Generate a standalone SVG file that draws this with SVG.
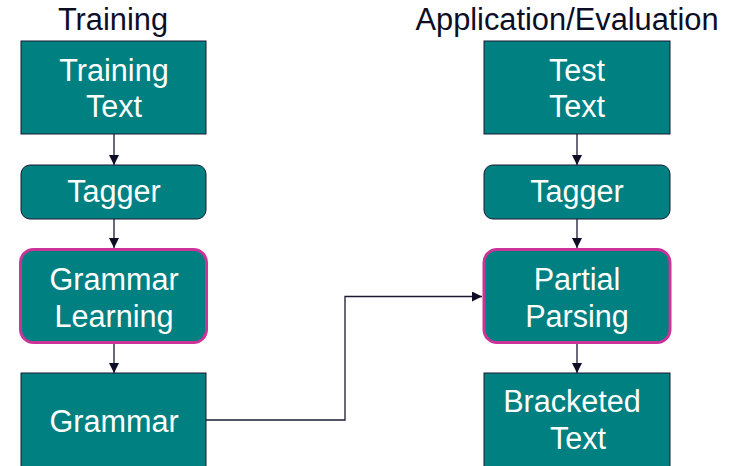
<svg xmlns="http://www.w3.org/2000/svg" width="734" height="466" viewBox="0 0 734 466">
  <style>
    .title { font-family: "Liberation Sans", Arial, sans-serif; font-size: 30.8px; fill: #0d0d26; text-anchor: middle; }
    .label { font-family: "Liberation Sans", Arial, sans-serif; font-size: 30.6px; fill: #ffffff; text-anchor: middle; }
    .box { fill: #008080; stroke: #1a1a33; stroke-width: 1; }
    .hl { fill: #008080; stroke: #cc3399; stroke-width: 3; }
    .edge { fill: none; stroke: #1a1a33; stroke-width: 1.3; }
  </style>
  <defs>
    <marker id="arrow" viewBox="0 0 10 10" refX="10" refY="5" markerWidth="10" markerHeight="10" markerUnits="userSpaceOnUse" orient="auto">
      <path d="M0,0 L10,5 L0,10 z" fill="#0d0d26"/>
    </marker>
  </defs>
  <rect width="734" height="466" fill="#ffffff"/>

  <text class="title" x="113" y="30">Training</text>
  <text class="title" x="567" y="30">Application/Evaluation</text>

  <g id="connectors">
    <line class="edge" x1="114" y1="134" x2="114" y2="165" marker-end="url(#arrow)"/>
    <line class="edge" x1="114" y1="219" x2="114" y2="248" marker-end="url(#arrow)"/>
    <line class="edge" x1="114" y1="344" x2="114" y2="373" marker-end="url(#arrow)"/>
    <line class="edge" x1="577" y1="134" x2="577" y2="165" marker-end="url(#arrow)"/>
    <line class="edge" x1="577" y1="219" x2="577" y2="248" marker-end="url(#arrow)"/>
    <line class="edge" x1="577" y1="344" x2="577" y2="373" marker-end="url(#arrow)"/>
    <polyline class="edge" points="206,420 345,420 345,296.5 482,296.5" marker-end="url(#arrow)"/>
  </g>

  <g id="training-text">
    <rect class="box" x="21" y="41" width="185" height="93"/>
    <text class="label" x="114" y="81">Training</text>
    <text class="label" x="114" y="117">Text</text>
  </g>
  <g id="tagger-train">
    <rect class="box" x="21" y="165" width="185" height="54" rx="9"/>
    <text class="label" x="114" y="202">Tagger</text>
  </g>
  <g id="grammar-learning">
    <rect class="hl" x="20.5" y="249.5" width="186" height="93" rx="13"/>
    <text class="label" x="114" y="290">Grammar</text>
    <text class="label" x="114" y="327">Learning</text>
  </g>
  <g id="grammar">
    <rect class="box" x="21" y="373" width="185" height="100"/>
    <text class="label" x="114" y="432">Grammar</text>
  </g>

  <g id="test-text">
    <rect class="box" x="484" y="41" width="186" height="93"/>
    <text class="label" x="577" y="81">Test</text>
    <text class="label" x="577" y="117">Text</text>
  </g>
  <g id="tagger-test">
    <rect class="box" x="484" y="165" width="186" height="54" rx="9"/>
    <text class="label" x="577" y="202">Tagger</text>
  </g>
  <g id="partial-parsing">
    <rect class="hl" x="484" y="249.5" width="186" height="93" rx="13"/>
    <text class="label" x="577" y="290">Partial</text>
    <text class="label" x="577" y="327">Parsing</text>
  </g>
  <g id="bracketed-text">
    <rect class="box" x="484" y="373" width="186" height="100"/>
    <text class="label" x="572" y="412">Bracketed</text>
    <text class="label" x="578" y="449">Text</text>
  </g>
</svg>
